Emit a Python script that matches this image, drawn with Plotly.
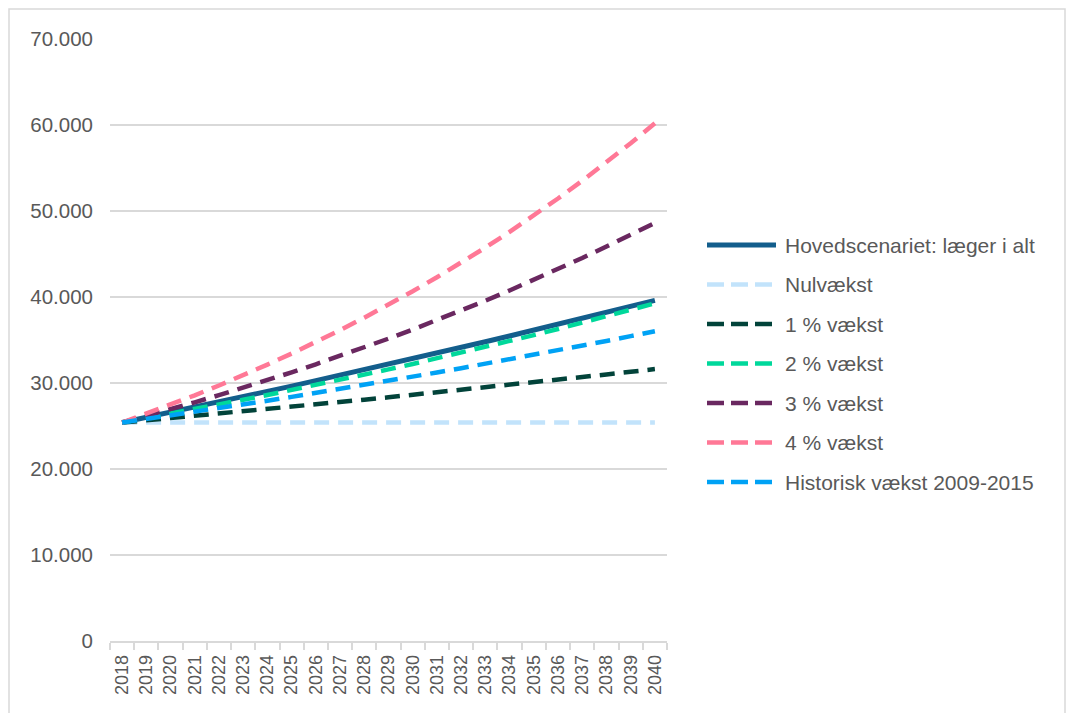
import plotly.graph_objects as go

years = [str(y) for y in range(2018, 2041)]

hovedscenariet = [25400, 25990, 26580, 27180, 27790, 28400, 29020, 29640, 30270, 30900,
                  31530, 32180, 32830, 33480, 34140, 34800, 35470, 36150, 36830, 37510,
                  38200, 38900, 39600]
nulvaekst = [25400] * 23
vaekst_1 = [25400, 25654, 25911, 26170, 26431, 26696, 26963, 27232, 27505, 27780,
            28057, 28338, 28621, 28907, 29197, 29488, 29783, 30081, 30382, 30686,
            30993, 31303, 31616]
vaekst_2 = [25400, 25908, 26426, 26955, 27494, 28044, 28605, 29177, 29760, 30355,
            30962, 31582, 32213, 32858, 33515, 34185, 34869, 35566, 36278, 37003,
            37743, 38498, 39268]
vaekst_3 = [25400, 26162, 26947, 27755, 28588, 29446, 30329, 31239, 32176, 33142,
            34136, 35160, 36215, 37301, 38420, 39573, 40760, 41983, 43242, 44540,
            45876, 47252, 48600]
vaekst_4 = [25400, 26416, 27473, 28571, 29714, 30903, 32139, 33425, 34762, 36152,
            37598, 39102, 40666, 42293, 43984, 45744, 47573, 49476, 51455, 53514,
            55654, 57880, 60196]
historisk = [25400, 25806, 26219, 26639, 27065, 27498, 27938, 28385, 28839, 29301,
             29770, 30246, 30730, 31221, 31721, 32228, 32744, 33268, 33800, 34341,
             34890, 35449, 36016]

series_names = ["Hovedscenariet: læger i alt", "Nulvækst", "1 % vækst", "2 % vækst",
                "3 % vækst", "4 % vækst", "Historisk vækst 2009-2015"]
series_values = [hovedscenariet, nulvaekst, vaekst_1, vaekst_2, vaekst_3, vaekst_4, historisk]
series_colors = ["#135E8C", "#C2E3FB", "#02433A", "#00D89B", "#6A2860", "#FF7896", "#00A2F5"]
series_dash = ["solid", "15px,9px", "15px,9px", "15px,9px", "15px,9px", "15px,9px", "15px,9px"]

y_ticks = [0, 10000, 20000, 30000, 40000, 50000, 60000, 70000]
y_ticktext = ["0", "10.000", "20.000", "30.000", "40.000", "50.000", "60.000", "70.000"]

W, H = 1067, 713
L, R, T, B = 110, 667, 39, 641
pw, ph = R - L, B - T

def px_x(x):
    return (x - L) / pw

def px_y(y):
    return (B - y) / ph

fig = go.Figure()
for name, vals, col, dash in zip(series_names, series_values, series_colors, series_dash):
    fig.add_trace(go.Scatter(x=years, y=vals, name=name, mode="lines",
                             line=dict(color=col, width=5 if dash == "solid" else 4.5, dash=dash),
                             showlegend=False))

shapes = []
annotations = []
leg_y = [245, 284.5, 324, 363.5, 403, 442.5, 482]
for i, (name, col, dash) in enumerate(zip(series_names, series_colors, series_dash)):
    yy = px_y(leg_y[i])
    shapes.append(dict(type="line", xref="paper", yref="paper",
                       x0=px_x(707), x1=px_x(776), y0=yy, y1=yy,
                       line=dict(color=col, width=5 if dash == "solid" else 4.5,
                                 dash="solid" if dash == "solid" else "17px,7px")))
    annotations.append(dict(xref="paper", yref="paper", x=px_x(783), y=yy,
                            xanchor="left", yanchor="middle", text=name, showarrow=False,
                            font=dict(family="Liberation Sans, Arial", size=21, color="#595959")))

# outer chart border
shapes.append(dict(type="rect", xref="paper", yref="paper",
                   x0=px_x(9), x1=px_x(1065), y0=px_y(730), y1=px_y(9),
                   line=dict(color="#D9D9D9", width=1.5), fillcolor="rgba(0,0,0,0)", layer="below"))

fig.update_layout(
    width=W, height=H,
    margin=dict(l=L, r=W - R, t=T, b=H - B),
    paper_bgcolor="white", plot_bgcolor="white",
    font=dict(family="Liberation Sans, Arial", color="#595959"),
    shapes=shapes, annotations=annotations,
    xaxis=dict(type="category", range=[-0.5, 22.5], tickangle=-90,
               showgrid=False, showline=True, linecolor="#D9D9D9", linewidth=1.5,
               ticks="outside", tickson="boundaries", ticklen=7, tickcolor="#D9D9D9", tickwidth=1.5,
               ticklabelstandoff=5,
               tickfont=dict(size=18, color="#595959"), zeroline=False, fixedrange=True),
    yaxis=dict(range=[0, 70000], tickvals=y_ticks, ticktext=y_ticktext,
               showgrid=True, gridcolor="#D9D9D9", gridwidth=1.5, zeroline=False,
               showline=False, ticks="", ticklabelstandoff=16,
               tickfont=dict(size=20.5, color="#595959"), fixedrange=True),
)

fig.write_html("out.html", config={"displayModeBar": False},
               post_script="document.body.style.margin='0';document.body.style.overflow='hidden';")
